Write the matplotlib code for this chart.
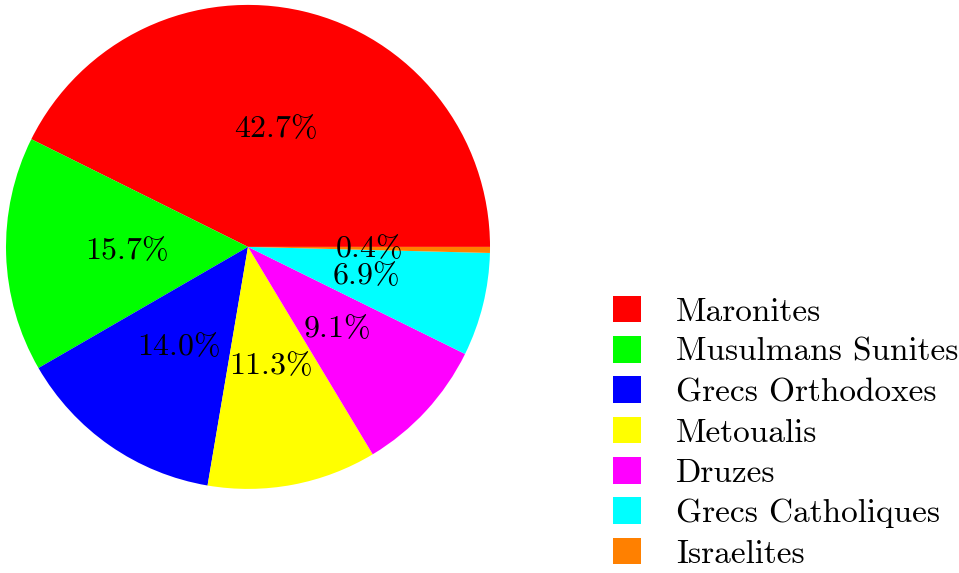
import numpy as np
import matplotlib
matplotlib.use("Agg")
import matplotlib.pyplot as plt

plt.rcParams['font.family'] = 'serif'
plt.rcParams['font.serif'] = ['cmr10']
plt.rcParams['mathtext.fontset'] = 'cm'
plt.rcParams['axes.unicode_minus'] = False

communautes = ['Maronites', 'Musulmans Sunites', 'Grecs Orthodoxes', 'Metoualis',
               'Druzes', 'Grecs Catholiques', 'Israelites']
parts = [42.7, 15.7, 14.0, 11.3, 9.1, 6.9, 0.4]
couleurs = ['#ff0000', '#00ff00', '#0000ff', '#ffff00', '#ff00ff', '#00ffff', '#ff8000']

fig = plt.figure(figsize=(9.59, 5.73), dpi=100)
ax = fig.add_axes([0.00626, 0.1466, 0.5047, 0.845])

wedges, texts, autotexts = ax.pie(parts, colors=couleurs, startangle=0,
                                  counterclock=True,
                                  autopct=lambda p: r'$%.1f\%%$' % p,
                                  pctdistance=0.5,
                                  textprops={'fontsize': 23})
ax.set_xlim(-1, 1)
ax.set_ylim(-1, 1)
ax.set_aspect('equal')

leg = fig.legend(wedges, communautes, loc='upper left', bbox_to_anchor=(0.639, 0.484),
                 frameon=False, fontsize=24, handlelength=0.85, handleheight=0.85,
                 handletextpad=1.05, labelspacing=0.285, borderpad=0, borderaxespad=0)

fig.savefig('out.png', dpi=100)
